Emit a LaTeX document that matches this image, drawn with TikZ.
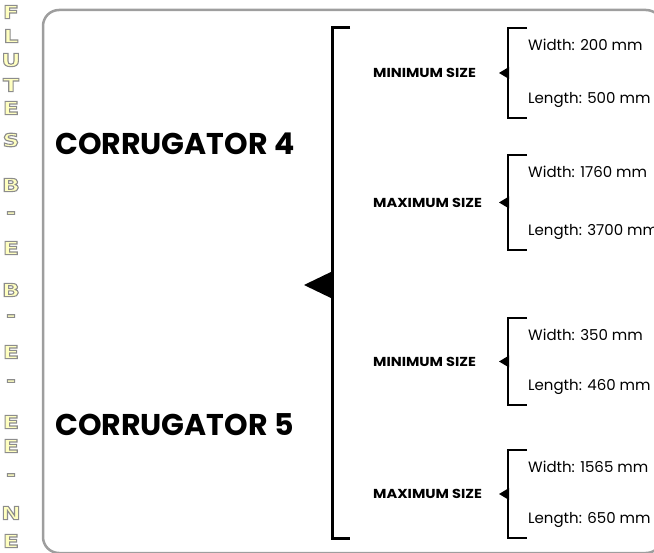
\documentclass[tikz,border=0pt]{standalone}
\usepackage{fontspec}
\setmainfont{Poppins}
\newfontfamily\flutefont{DejaVu Sans}[FakeStretch=1.3]
\newfontfamily\widefont{Poppins}[FakeStretch=1.12]
\definecolor{framegray}{HTML}{9E9E9E}
\definecolor{fluteyellow}{HTML}{FFFFC0}
% outlined letters: fill in the text colour, grey stroke
\newcommand\outlined[1]{\special{pdf:code 2 Tr 1.1 w 0.55 0.55 0.55 RG}#1\special{pdf:code 0 Tr}}

\begin{document}
\begin{tikzpicture}[x=1pt, y=-1pt,
    bracket/.style={line width=3pt},
    subbracket/.style={line width=2.5pt},
    machine/.style={anchor=west, inner sep=0pt, font=\fontsize{30}{30}\selectfont\bfseries},
    sizelabel/.style={anchor=west, inner sep=0pt, font=\widefont\fontsize{13}{13}\selectfont\bfseries},
    dimlabel/.style={anchor=west, inner sep=0pt, font=\fontsize{15}{15}\selectfont},
    flutechar/.style={inner sep=0pt, text=fluteyellow, font=\flutefont\bfseries\fontsize{18}{18}\selectfont}]
    \useasboundingbox (0,0) rectangle (654,553);

    % Frame
    \begin{scope}
        \clip (0,0) rectangle (654,553);
        \draw[framegray, line width=2.5pt, rounded corners=16pt] (43,10) rectangle (662,553);
    \end{scope}

    % Flutes (vertical, outlined letters)
    \foreach \ch/\yy [count=\i] in {F/12, L/36, U/60, T/85, E/108, S/140, B/185, -/215, E/248, B/290, -/318, E/352, -/383, E/422, E/446, -/477, N/513, E/541}
        \node[flutechar] (flute\i) at (11,\yy) {\outlined{\ch}};

    % Corrugators
    \node[machine] (corr4) at (55,144) {CORRUGATOR 4};
    \node[machine] (corr5) at (55,425) {CORRUGATOR 5};

    % Main bracket
    \draw[bracket] (350,28) -- (332,28) -- (332,538) -- (350,538);
    \fill (304,285) -- (333,271) -- (333,299) -- cycle;

    % Size groups
    \foreach \ytop/\ybot/\kind/\w/\l [count=\g] in {28/118/MINIMUM/200/500, 155/250/MAXIMUM/1760/3700, 318/405/MINIMUM/350/460, 450/538/MAXIMUM/1565/650} {
        \pgfmathsetmacro\ymid{(\ytop+\ybot)/2}
        \draw[subbracket] (527,\ytop) -- (508,\ytop) -- (508,\ybot) -- (527,\ybot);
        \fill (499,\ymid) -- (509,\ymid-6) -- (509,\ymid+6) -- cycle;
        \node[sizelabel] (size\g) at (373,\ymid) {\kind{} SIZE};
        \node[dimlabel] (width\g) at (528,\ytop+17) {Width: \w{} mm};
        \node[dimlabel] (length\g) at (528,\ybot-18) {Length: \l{} mm};
    }
\end{tikzpicture}
\end{document}
